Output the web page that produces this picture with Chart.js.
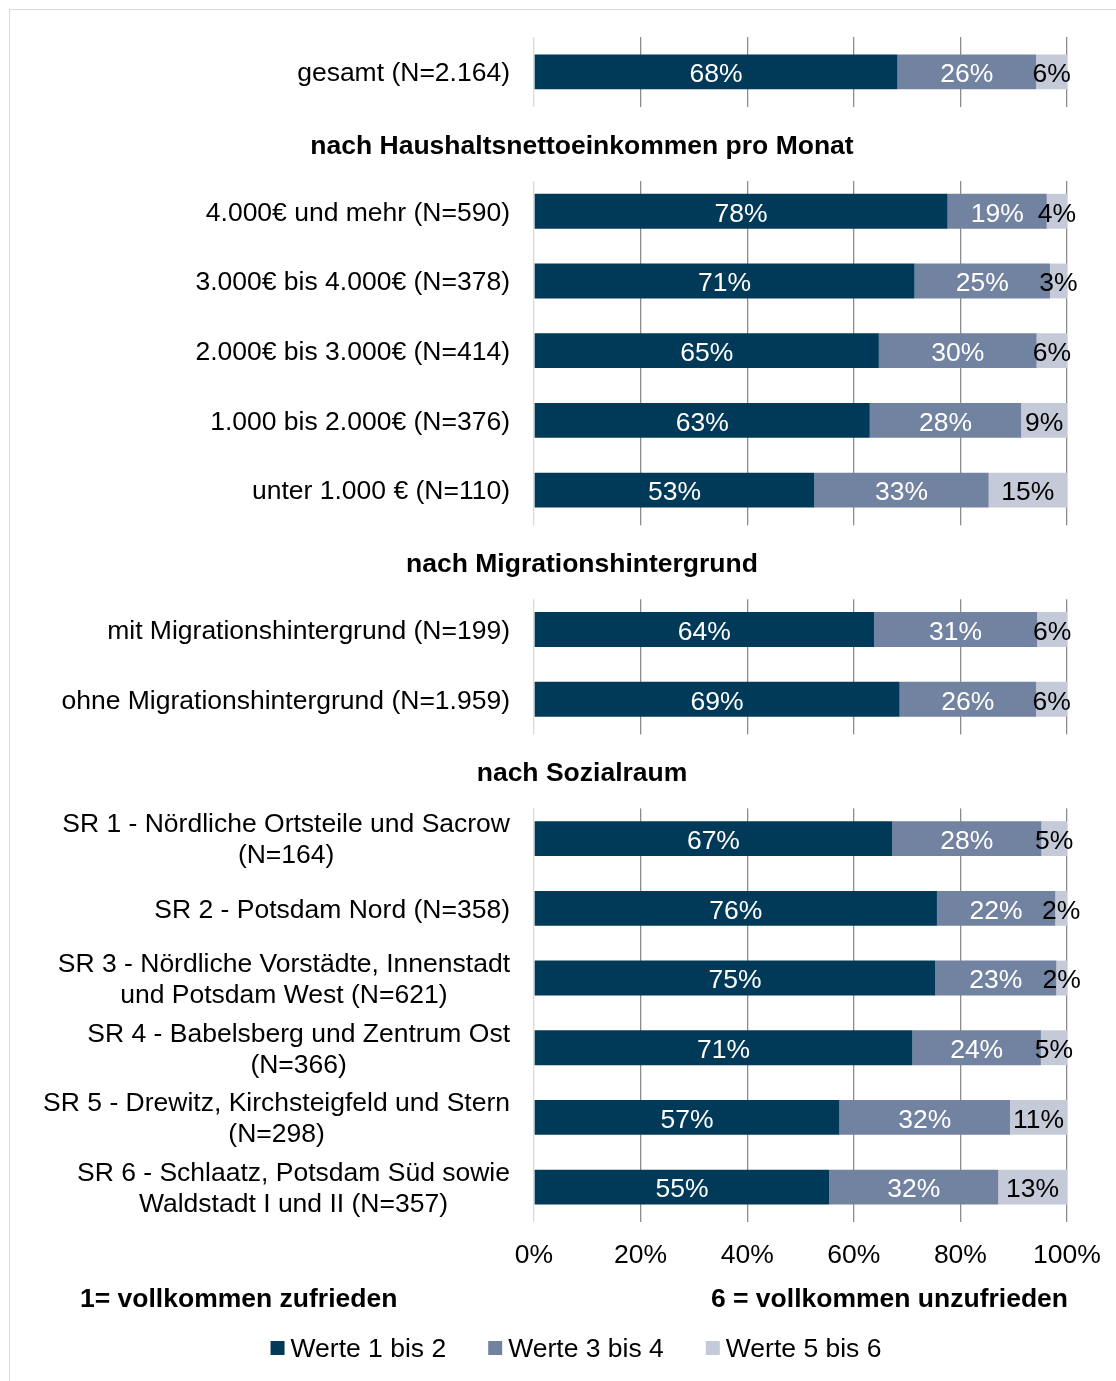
<!DOCTYPE html>
<html lang="de">
<head>
<meta charset="utf-8">
<title>Zufriedenheit – gestapelte Balken</title>
<script src="https://cdn.jsdelivr.net/npm/chart.js@4.4.1/dist/chart.umd.min.js"></script>
<style>
  html, body { margin: 0; padding: 0; background: #fff; }
  canvas { display: block; }
</style>
</head>
<body>
<canvas id="chart" width="1116" height="1381"></canvas>
<script>
// Kategorien (mehrzeilige Beschriftungen als Arrays), Abschnittsüberschriften als eigene Zeilen
const categories = [
  ["gesamt (N=2.164)"],
  ["nach Haushaltsnettoeinkommen pro Monat"],
  ["4.000€ und mehr (N=590)"],
  ["3.000€ bis 4.000€ (N=378)"],
  ["2.000€ bis 3.000€ (N=414)"],
  ["1.000 bis 2.000€ (N=376)"],
  ["unter 1.000 € (N=110)"],
  ["nach Migrationshintergrund"],
  ["mit Migrationshintergrund (N=199)"],
  ["ohne Migrationshintergrund (N=1.959)"],
  ["nach Sozialraum"],
  ["SR 1 - Nördliche Ortsteile und Sacrow", "(N=164)"],
  ["SR 2 - Potsdam Nord (N=358)"],
  ["SR 3 - Nördliche Vorstädte, Innenstadt", "und Potsdam West (N=621)"],
  ["SR 4 - Babelsberg und Zentrum Ost", "(N=366)"],
  ["SR 5 - Drewitz, Kirchsteigfeld und Stern", "(N=298)"],
  ["SR 6 - Schlaatz, Potsdam Süd sowie", "Waldstadt I und II (N=357)"]
];

const sectionHeaders = [
  "nach Haushaltsnettoeinkommen pro Monat",
  "nach Migrationshintergrund",
  "nach Sozialraum"
];

// Anteile in Prozent (Überschriftenzeilen ohne Werte)
const werte12 = [68.2, null, 77.6, 71.4, 64.7, 63.0, 52.6, null, 63.8, 68.6, null, 67.2, 75.6, 75.3, 71.0, 57.3, 55.4];
const werte34 = [26.0, null, 18.6, 25.4, 29.6, 28.4, 32.7, null, 30.6, 25.6, null, 28.0, 22.2, 22.7, 24.1, 32.0, 31.7];
const werte56 = [5.8,  null, 3.8,  3.2,  5.7,  8.6,  14.7, null, 5.6,  5.8,  null, 4.8,  2.2,  2.0,  4.9,  10.7, 12.9];

const seriesNames = ["Werte 1 bis 2", "Werte 3 bis 4", "Werte 5 bis 6"];
const seriesColors = ["#003a58", "#7282a1", "#c5cad9"];
const xTickLabels = ["0%", "20%", "40%", "60%", "80%", "100%"];

const scaleNotes = ["1= vollkommen zufrieden", "6 = vollkommen unzufrieden"];

const FONT = "'Liberation Sans', Arial, Helvetica, sans-serif";
const FS = 26.5;
const TY = 2; // vertical nudge for text drawn with a 'middle' baseline

Chart.defaults.font.family = FONT;
Chart.defaults.font.size = FS;
Chart.defaults.color = '#000';

const isHeader = (lab) => sectionHeaders.includes(lab[0]);

// Rahmen, Überschriften, Achsenbeschriftung links, Wertelabels, Skalenhinweise und Legende
const decorPlugin = {
  id: 'decor',
  beforeDraw(chart) {
    const { ctx, width, height } = chart;
    ctx.save();
    ctx.fillStyle = '#fff';
    ctx.fillRect(0, 0, width, height);
    ctx.strokeStyle = '#d9d9d9';
    ctx.lineWidth = 1;
    ctx.strokeRect(9.5, 9.5, width + 40, height + 40);
    ctx.restore();
  },
  beforeDatasetsDraw(chart) {
    // Überschriftenzeilen unterbrechen die Gitterlinien
    const { ctx, chartArea, scales: { y } } = chart;
    ctx.save();
    ctx.fillStyle = '#fff';
    categories.forEach((lab, i) => {
      if (!isHeader(lab)) return;
      const cy = y.getPixelForValue(i) + 2.5;
      ctx.fillRect(chartArea.left - 3, cy - 37, chartArea.right - chartArea.left + 6, 74);
    });
    ctx.restore();
  },
  afterDatasetsDraw(chart) {
    const { ctx } = chart;
    ctx.save();
    ctx.font = `${FS}px ${FONT}`;
    ctx.textAlign = 'center';
    ctx.textBaseline = 'middle';
    const textColors = ['#fff', '#fff', '#000'];
    chart.data.datasets.forEach((ds, di) => {
      const meta = chart.getDatasetMeta(di);
      meta.data.forEach((bar, i) => {
        const v = ds.data[i];
        if (v == null) return;
        const cx = (bar.x + bar.base) / 2;
        ctx.fillStyle = textColors[di];
        ctx.fillText(Math.round(v) + '%', cx, bar.y + 1 + TY);
      });
    });
    ctx.restore();
  },
  afterDraw(chart) {
    const { ctx, scales: { y } } = chart;
    ctx.save();
    ctx.textBaseline = 'middle';
    ctx.fillStyle = '#000';
    const labelRight = 510;
    const lineH = 31;
    categories.forEach((lab, i) => {
      const cy = y.getPixelForValue(i) + TY;
      if (isHeader(lab)) {
        ctx.font = `bold ${FS}px ${FONT}`;
        ctx.textAlign = 'center';
        ctx.fillText(lab[0], 582, cy + 3);
        return;
      }
      ctx.font = `${FS}px ${FONT}`;
      const widths = lab.map(t => ctx.measureText(t).width);
      const blockW = Math.max(...widths);
      const blockCenter = labelRight - blockW / 2;
      ctx.textAlign = 'center';
      lab.forEach((t, k) => {
        const ly = cy + (k - (lab.length - 1) / 2) * lineH;
        ctx.fillText(t, blockCenter, ly);
      });
    });

    // Skalenhinweise unter der Achse
    ctx.font = `bold ${FS}px ${FONT}`;
    ctx.textAlign = 'left';
    ctx.fillText(scaleNotes[0], 80, 1298 + TY);
    ctx.textAlign = 'right';
    ctx.fillText(scaleNotes[1], 1068, 1298 + TY);

    // Legende: Quadrat + Text, zentriert unter dem Diagramm
    ctx.font = `${FS}px ${FONT}`;
    ctx.textAlign = 'left';
    const box = 14, gap = 6, itemGap = 42, legendY = 1348;
    const items = chart.data.datasets.map(ds => ({
      text: ds.label, color: ds.backgroundColor,
      w: box + gap + ctx.measureText(ds.label).width
    }));
    const total = items.reduce((s, it) => s + it.w, 0) + itemGap * (items.length - 1);
    let x = 576 - total / 2;
    items.forEach(it => {
      ctx.fillStyle = it.color;
      ctx.fillRect(x, legendY - box / 2, box, box);
      ctx.fillStyle = '#000';
      ctx.fillText(it.text, x + box + gap, legendY + TY);
      x += it.w + itemGap;
    });
    ctx.restore();
  }
};

new Chart(document.getElementById('chart'), {
  type: 'bar',
  data: {
    labels: categories,
    datasets: seriesNames.map((name, k) => ({
      label: name,
      data: [werte12, werte34, werte56][k],
      backgroundColor: seriesColors[k]
    }))
  },
  options: {
    indexAxis: 'y',
    responsive: false,
    animation: false,
    devicePixelRatio: 1,
    datasets: {
      bar: { barPercentage: 0.5, categoryPercentage: 1.0, borderWidth: 0 }
    },
    layout: { padding: { top: 37, right: 49, bottom: 0, left: 93 } },
    scales: {
      x: {
        stacked: true,
        min: 0,
        max: 100,
        ticks: {
          stepSize: 20,
          padding: 18,
          color: '#000',
          font: { size: FS },
          callback: (v, i) => xTickLabels[i]
        },
        grid: {
          drawTicks: false,
          lineWidth: 1.3,
          color: (c) => (c.tick && c.tick.value === 0) ? '#d9d9d9' : '#8c8c8c'
        },
        border: { display: false },
        afterFit(scale) {
          scale.height = 159;
          // the outer padding already leaves room for the end labels
          scale.paddingLeft = 0;
          scale.paddingRight = 0;
        }
      },
      y: {
        stacked: true,
        ticks: { display: false },
        grid: { display: false },
        border: { display: false },
        afterFit(scale) { scale.width = 441; }
      }
    },
    plugins: {
      legend: { display: false },
      tooltip: { enabled: false }
    }
  },
  plugins: [decorPlugin]
});
</script>
</body>
</html>
